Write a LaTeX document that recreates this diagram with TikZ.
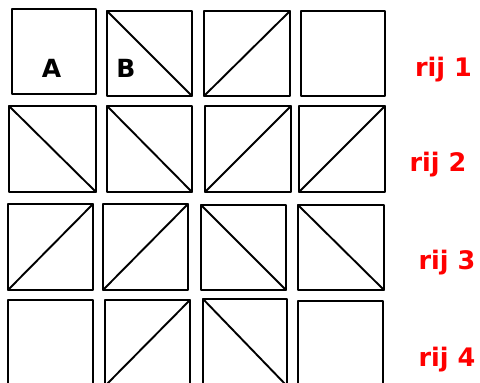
\documentclass[tikz,border=0pt]{standalone}
\usepackage{fontspec}
\newfontfamily\tegelfont{DejaVu Sans}
\usepackage{tikz}

\begin{document}
\begin{tikzpicture}[x=1pt, y=-1pt, line width=1.9pt, line cap=round, line join=round,
  letter/.style={anchor=center, inner sep=0pt, font=\tegelfont\bfseries\fontsize{25}{30}\selectfont},
  rij/.style={anchor=center, inner sep=0pt, text=red, font=\tegelfont\bfseries\fontsize{25.5}{30}\selectfont}]

  %% ════ rij 1 ════
  \draw (12,9) rectangle (96,94);
  \draw (107,11) rectangle (192,96);
  \draw (107,11) -- (192,96);
  \draw (204,11) rectangle (290,96);
  \draw (204,96) -- (290,11);
  \draw (301,11) rectangle (385,96);

  %% ════ rij 2 ════
  \draw (9,106) rectangle (96,192);
  \draw (9,106) -- (96,192);
  \draw (107,106) rectangle (192,192);
  \draw (107,106) -- (192,192);
  \draw (205,106) rectangle (291,192);
  \draw (205,192) -- (291,106);
  \draw (299,106) rectangle (385,192);
  \draw (299,192) -- (385,106);

  %% ════ rij 3 ════
  \draw (8,204) rectangle (93,290);
  \draw (8,290) -- (93,204);
  \draw (103,204) rectangle (188,290);
  \draw (103,290) -- (188,204);
  \draw (201,205) rectangle (286,290);
  \draw (201,205) -- (286,290);
  \draw (298,205) rectangle (384,290);
  \draw (298,205) -- (384,290);

  %% ════ rij 4 (onderkant valt buiten beeld) ════
  \draw (8,300) rectangle (93,386);
  \draw (105,300) rectangle (190,386);
  \draw (105,386) -- (190,300);
  \draw (203,299) rectangle (287,386);
  \draw (203,299) -- (287,386);
  \draw (298,301) rectangle (383,387);

  %% ════ letters ════
  \node[letter] (lA) at (51.5,68) {A};
  \node[letter] (lB) at (126,68) {B};

  %% ════ rij-labels ════
  \node[rij] (r1) at (443.5,70) {rij 1};
  \node[rij] (r2) at (438,165) {rij 2};
  \node[rij] (r3) at (447,263) {rij 3};
  \node[rij] (r4) at (447,360) {rij 4};

  % canvas vast: rij 4 loopt onderaan door
  \pgfresetboundingbox
  \path[use as bounding box] (0,0) rectangle (480,383);
\end{tikzpicture}
\end{document}
